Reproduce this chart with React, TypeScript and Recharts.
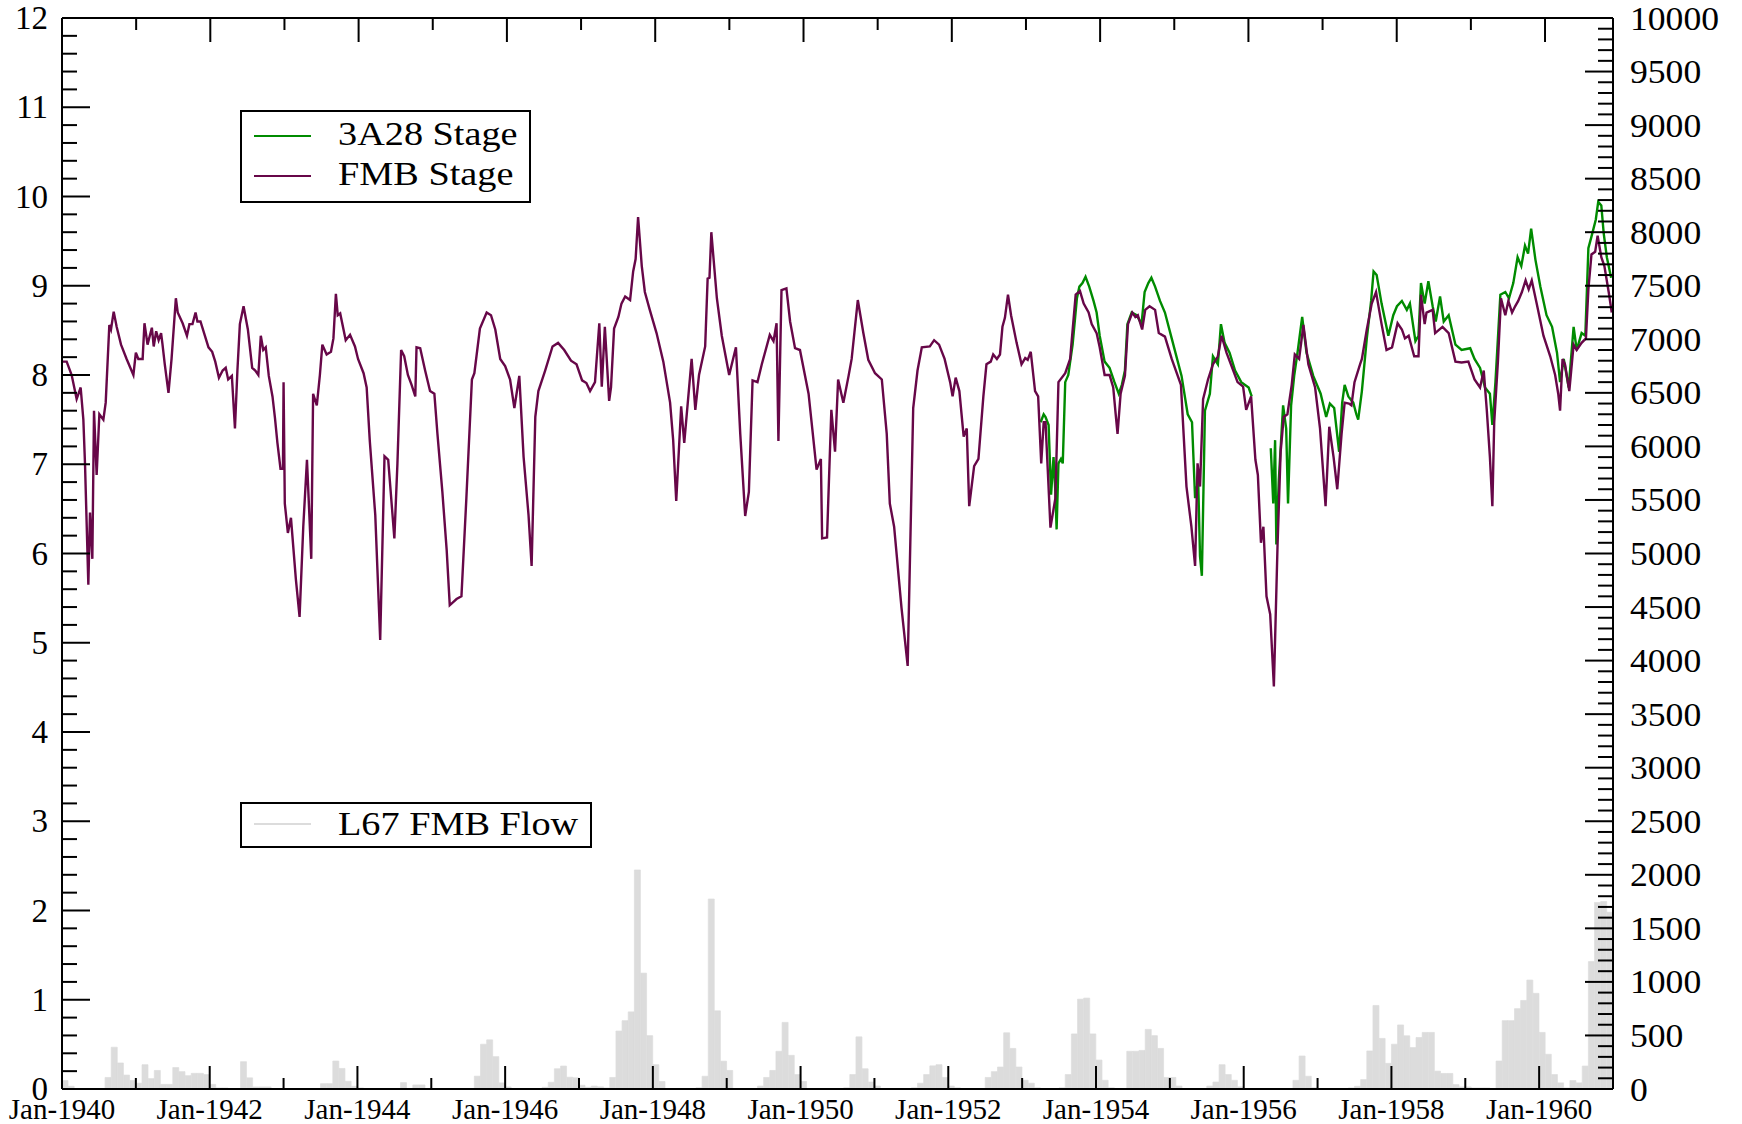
import { Bar, ComposedChart, Legend, Line, XAxis, YAxis } from 'recharts';

const FONT = '"Liberation Serif", "Times New Roman", Times, serif';
const GREEN = '#008b00';
const MAROON = '#670748';
const GREY = '#dcdcdc';

// x positions are months counted from Jan-1940
const X_LABELS = ['Jan-1940', 'Jan-1942', 'Jan-1944', 'Jan-1946', 'Jan-1948', 'Jan-1950', 'Jan-1952', 'Jan-1954', 'Jan-1956', 'Jan-1958', 'Jan-1960'];
const LEFT_LABELS = [0, 1, 2, 3, 4, 5, 6, 7, 8, 9, 10, 11, 12];
const RIGHT_LABELS = [0, 500, 1000, 1500, 2000, 2500, 3000, 3500, 4000, 4500, 5000, 5500, 6000, 6500, 7000, 7500, 8000, 8500, 9000, 9500, 10000];

// L67 FMB Flow, monthly from Jan-1940 (right axis)
const FLOW = [
  79, 25, 0, 0, 0, 0, 0, 108, 390, 243, 130, 80,
  54, 227, 97, 173, 43, 43, 200, 162, 124, 146, 146, 135,
  43, 10, 10, 0, 0, 255, 104, 19, 19, 19, 0, 0,
  0, 0, 0, 0, 0, 0, 50, 50, 261, 192, 72, 25,
  10, 0, 0, 0, 0, 0, 0, 60, 0, 38, 38, 0,
  0, 0, 0, 0, 0, 0, 0, 120, 418, 459, 302, 57,
  19, 0, 0, 0, 0, 0, 16, 63, 189, 214, 110, 104,
  35, 16, 27, 20, 10, 108, 541, 638, 720, 2045, 1082, 498,
  227, 70, 0, 0, 0, 0, 0, 11, 119, 1774, 730, 260,
  173, 0, 0, 0, 0, 27, 108, 173, 352, 622, 314, 135,
  70, 0, 0, 0, 0, 0, 0, 11, 135, 487, 189, 65,
  27, 0, 0, 0, 0, 0, 11, 54, 135, 216, 227, 108,
  27, 11, 0, 0, 0, 0, 108, 162, 205, 525, 379, 205,
  81, 54, 11, 0, 0, 0, 11, 135, 514, 839, 849, 514,
  270, 81, 11, 0, 0, 352, 352, 360, 557, 498, 379, 108,
  108, 27, 0, 0, 0, 0, 27, 65, 227, 135, 81, 20,
  0, 0, 0, 0, 0, 0, 0, 0, 81, 308, 119, 11,
  0, 0, 0, 0, 0, 10, 25, 88, 355, 780, 472, 239,
  418, 598, 497, 387, 481, 528, 528, 167, 145, 145, 41, 19,
  19, 10, 10, 10, 0, 261, 638, 638, 750, 827, 1017, 893,
  528, 324, 135, 57, 10, 79, 57, 214, 1190, 1742, 1750, 1650,
];

// FMB Stage [month, stage]
const FMB_STAGE: [number, number][] = [
  [0, 8.15], [0.76, 8.15], [1.57, 8.0], [2.38, 7.73], [3.03, 7.86], [3.47, 7.5], [3.74, 7.0], [4.28, 5.65], [4.55, 6.46], [4.93, 5.94],
  [5.2, 7.6], [5.63, 6.88], [6.07, 7.56], [6.72, 7.5], [7.1, 7.69], [7.69, 8.56], [7.96, 8.51], [8.4, 8.71], [8.88, 8.54], [9.59, 8.34],
  [10.5, 8.18], [11.6, 8.0], [12.0, 8.25], [12.4, 8.18], [13.1, 8.18], [13.4, 8.58], [13.9, 8.34], [14.6, 8.53], [14.9, 8.32], [15.3, 8.49],
  [15.7, 8.39], [16.1, 8.47], [16.3, 8.36], [16.7, 8.12], [17.3, 7.8], [17.8, 8.18], [18.5, 8.86], [18.8, 8.7], [19.6, 8.58], [20.3, 8.44],
  [20.7, 8.57], [21.2, 8.57], [21.7, 8.7], [22.0, 8.6], [22.5, 8.6], [23.8, 8.31], [24.4, 8.26], [24.9, 8.15], [25.5, 7.97], [26.1, 8.05],
  [26.6, 8.08], [27.0, 7.95], [27.6, 7.99], [28.1, 7.4], [28.5, 8.05], [28.9, 8.57], [29.5, 8.77], [30.2, 8.51], [30.9, 8.08], [31.4, 8.05],
  [31.9, 8.0], [32.3, 8.44], [32.7, 8.28], [33.1, 8.31], [33.6, 7.99], [34.2, 7.76], [34.6, 7.52], [35.0, 7.24], [35.5, 6.95], [35.9, 6.95],
  [36.0, 7.92], [36.2, 6.56], [36.7, 6.23], [37.2, 6.4], [38.0, 5.71], [38.6, 5.29], [39.2, 6.3], [39.8, 7.05], [40.5, 5.94], [40.8, 7.79],
  [41.4, 7.66], [41.9, 8.0], [42.3, 8.34], [43.0, 8.23], [43.7, 8.26], [44.1, 8.41], [44.5, 8.91], [44.8, 8.67], [45.2, 8.69], [46.1, 8.39],
  [46.8, 8.45], [47.6, 8.32], [48.1, 8.18], [49.0, 8.02], [49.5, 7.86], [50.0, 7.27], [50.9, 6.43], [51.7, 5.03], [52.4, 7.09], [53.0, 7.05],
  [54.0, 6.17], [54.5, 7.01], [55.1, 8.28], [55.6, 8.21], [56.2, 8.0], [56.8, 7.89], [57.4, 7.76], [57.6, 8.31], [58.2, 8.3], [59.0, 8.05],
  [59.8, 7.82], [60.5, 7.79], [61.0, 7.34], [61.8, 6.69], [62.5, 6.04], [63.0, 5.42], [64.1, 5.49], [64.9, 5.52], [65.7, 6.62], [66.6, 7.95],
  [67.0, 8.02], [67.9, 8.52], [69.0, 8.7], [69.7, 8.67], [70.4, 8.51], [71.2, 8.18], [72.0, 8.1], [72.8, 7.95], [73.5, 7.63], [74.3, 7.99],
  [75.0, 7.08], [75.8, 6.43], [76.3, 5.86], [76.9, 7.53], [77.4, 7.82], [78.5, 8.05], [79.7, 8.32], [80.6, 8.36], [81.6, 8.28], [82.7, 8.16],
  [83.6, 8.12], [84.5, 7.94], [85.2, 7.91], [85.8, 7.82], [86.6, 7.92], [87.3, 8.58], [87.7, 7.87], [88.2, 8.54], [88.9, 7.71], [89.2, 7.86],
  [89.7, 8.52], [90.4, 8.65], [90.9, 8.8], [91.5, 8.88], [92.3, 8.84], [92.8, 9.16], [93.2, 9.3], [93.6, 9.77], [94.2, 9.22], [94.7, 8.93],
  [95.5, 8.73], [96.6, 8.47], [97.7, 8.15], [98.8, 7.69], [99.3, 7.27], [99.8, 6.59], [100.6, 7.65], [101.1, 7.24], [102.3, 8.18], [102.9, 7.61],
  [103.5, 8.0], [104.5, 8.32], [104.9, 9.08], [105.2, 9.09], [105.5, 9.6], [106.4, 8.86], [107.2, 8.44], [108.4, 8.0], [109.5, 8.31], [110.2, 7.34],
  [111.0, 6.42], [111.6, 6.69], [112.2, 7.94], [113.0, 7.92], [113.7, 8.12], [115.0, 8.45], [115.6, 8.38], [116.1, 8.58], [116.4, 7.26], [116.9, 8.95],
  [117.7, 8.97], [118.3, 8.6], [119.1, 8.3], [119.9, 8.28], [121.3, 7.79], [121.9, 7.4], [122.6, 6.94], [123.3, 7.06], [123.5, 6.17], [124.3, 6.18],
  [125.0, 7.61], [125.6, 7.14], [126.1, 7.95], [126.95, 7.69], [127.8, 7.99], [128.3, 8.18], [129.3, 8.84], [130.2, 8.47], [131.0, 8.17], [132.1, 8.02],
  [133.2, 7.95], [134.0, 7.34], [134.5, 6.56], [135.2, 6.3], [136.4, 5.39], [137.4, 4.74], [138.3, 7.63], [139.0, 8.05], [139.7, 8.31], [141.0, 8.32],
  [141.7, 8.39], [142.5, 8.34], [143.4, 8.18], [144.3, 7.92], [144.7, 7.76], [145.2, 7.97], [145.8, 7.82], [146.5, 7.31], [147.0, 7.4], [147.4, 6.53],
  [148.2, 6.98], [148.9, 7.06], [149.7, 7.76], [150.2, 8.12], [150.9, 8.15], [151.3, 8.23], [151.9, 8.18], [152.4, 8.23], [152.8, 8.54], [153.2, 8.64],
  [153.7, 8.9], [154.2, 8.67], [155.1, 8.36], [155.9, 8.12], [156.5, 8.19], [156.9, 8.17], [157.4, 8.26], [158.1, 7.82], [158.6, 7.76], [159.1, 7.01],
  [159.5, 7.47], [159.8, 7.47], [160.6, 6.29], [161.4, 6.62], [161.9, 7.92], [163.0, 8.02], [163.8, 8.18], [164.7, 8.9], [165.4, 8.94], [166.0, 8.8],
  [166.8, 8.7], [167.3, 8.57], [168.1, 8.47], [168.6, 8.31], [169.4, 8.0], [170.2, 8.0], [170.8, 7.86], [171.2, 7.56], [171.5, 7.34], [172.0, 7.79],
  [172.7, 7.99], [173.2, 8.57], [173.9, 8.7], [174.4, 8.65], [174.8, 8.67], [175.5, 8.51], [176.0, 8.73], [176.7, 8.77], [177.6, 8.73], [178.2, 8.47],
  [179.2, 8.43], [180.3, 8.18], [181.8, 7.89], [182.7, 6.75], [183.5, 6.3], [184.1, 5.86], [184.5, 7.01], [184.9, 6.75], [185.4, 7.73], [186.2, 7.95],
  [187.0, 8.12], [187.8, 8.21], [188.4, 8.44], [189.2, 8.25], [190.3, 8.05], [191.0, 7.92], [191.9, 7.87], [192.4, 7.61], [193.2, 7.76], [193.9, 7.05],
  [194.3, 6.88], [194.8, 6.12], [195.2, 6.3], [195.7, 5.52], [196.3, 5.32], [196.9, 4.51], [197.5, 6.1], [198.0, 7.14], [198.5, 7.53], [199.1, 7.56],
  [199.8, 7.89], [200.3, 8.23], [201.0, 8.18], [201.7, 8.56], [202.5, 8.12], [203.6, 7.86], [204.4, 7.4], [205.3, 6.53], [205.9, 7.42], [206.6, 7.08],
  [207.2, 6.72], [207.9, 7.34], [208.4, 7.69], [209.1, 7.68], [209.5, 7.66], [210.0, 7.92], [210.9, 8.12], [211.2, 8.18], [212.0, 8.51], [212.8, 8.8],
  [213.5, 8.93], [214.4, 8.57], [215.2, 8.28], [216.1, 8.31], [217.0, 8.58], [217.7, 8.51], [218.2, 8.41], [218.8, 8.44], [219.7, 8.21], [220.4, 8.21],
  [220.8, 8.9], [221.4, 8.57], [221.7, 8.7], [222.7, 8.73], [223.1, 8.47], [224.3, 8.54], [225.3, 8.47], [226.4, 8.15], [227.4, 8.14], [228.5, 8.15],
  [229.5, 7.95], [230.4, 7.86], [231.0, 8.05], [231.5, 7.6], [232.0, 7.08], [232.4, 6.53], [232.7, 7.47], [233.3, 8.15], [233.8, 8.86], [234.5, 8.67],
  [235.0, 8.83], [235.6, 8.7], [236.1, 8.77], [236.6, 8.83], [237.2, 8.93], [237.8, 9.06], [238.3, 8.96], [238.8, 9.06], [239.6, 8.8], [240.7, 8.44],
  [241.8, 8.21], [242.6, 8.0], [243.1, 7.79], [243.4, 7.6], [243.8, 8.18], [244.2, 8.12], [244.9, 7.82], [245.6, 8.34], [246.1, 8.28], [246.9, 8.36],
  [247.6, 8.41], [248.0, 8.96], [248.5, 9.35], [249.1, 9.38], [249.5, 9.56], [250.1, 9.32], [250.6, 9.22], [251.3, 8.93], [251.8, 8.7],
];

// 3A28 Stage [month, stage], null = gap in record
const STAGE_3A28: [number, number | null][] = [
  [159.0, 7.47], [159.5, 7.56], [159.8, 7.53], [160.3, 7.44], [160.7, 6.66], [161.1, 7.08], [161.4, 6.69], [161.6, 6.27], [161.9, 7.01], [162.3, 7.06],
  [162.6, 7.01], [163.0, 7.92], [163.5, 8.0], [164.2, 8.34], [164.9, 8.86], [165.3, 8.99], [165.8, 9.03], [166.3, 9.1], [166.9, 8.99], [167.6, 8.83],
  [168.1, 8.7], [168.6, 8.44], [169.4, 8.15], [170.2, 8.08], [171.0, 7.92], [171.7, 7.79], [172.2, 7.89], [172.7, 8.05], [173.1, 8.57], [173.8, 8.7],
  [174.6, 8.67], [175.4, 8.57], [175.9, 8.93], [176.5, 9.03], [177.0, 9.09], [177.6, 8.99], [178.4, 8.83], [179.2, 8.7], [180.3, 8.41], [181.9, 7.99],
  [182.9, 7.56], [183.6, 7.47], [184.1, 6.62], [184.6, 6.82], [184.9, 5.97], [185.2, 5.75], [185.7, 7.6], [186.5, 7.79], [187.0, 8.21], [187.8, 8.12],
  [188.3, 8.57], [188.9, 8.36], [189.7, 8.25], [190.6, 8.05], [191.6, 7.92], [192.8, 7.86], [193.3, 7.76], [194.8, null], [196.4, 7.18], [196.8, 6.56],
  [197.1, 7.27], [197.3, 6.1], [197.7, 6.82], [198.4, 7.66], [198.9, 7.4], [199.2, 6.56], [199.7, 7.66], [200.2, 7.99], [200.8, 8.28], [201.5, 8.65],
  [202.2, 8.25], [203.3, 7.99], [204.5, 7.79], [205.4, 7.53], [206.0, 7.68], [206.7, 7.63], [207.5, 7.14], [208.0, 7.69], [208.4, 7.89], [209.0, 7.76],
  [209.8, 7.69], [210.3, 7.56], [210.6, 7.5], [211.2, 7.82], [212.0, 8.41], [212.7, 8.83], [213.1, 9.16], [213.6, 9.12], [214.4, 8.8], [215.5, 8.44],
  [216.3, 8.67], [216.9, 8.77], [217.7, 8.83], [218.5, 8.73], [219.0, 8.8], [219.9, 8.38], [220.4, 8.44], [220.8, 9.03], [221.4, 8.8], [222.0, 9.05],
  [222.7, 8.77], [223.2, 8.6], [223.9, 8.88], [224.5, 8.6], [225.3, 8.67], [226.4, 8.34], [227.4, 8.28], [228.8, 8.3], [229.5, 8.18], [230.4, 8.08],
  [231.2, 7.86], [232.0, 7.79], [232.4, 7.44], [232.9, 7.92], [233.7, 8.9], [234.5, 8.93], [235.1, 8.86], [235.8, 9.03], [236.5, 9.32], [237.1, 9.22],
  [237.7, 9.45], [238.2, 9.36], [238.7, 9.64], [239.4, 9.29], [240.2, 8.99], [241.2, 8.67], [242.1, 8.54], [242.9, 8.25], [243.4, 7.92], [244.0, 8.18],
  [244.8, 7.86], [245.6, 8.54], [246.1, 8.28], [246.9, 8.47], [247.5, 8.44], [248.0, 9.42], [248.5, 9.55], [249.2, 9.74], [249.6, 9.94], [250.1, 9.9],
  [250.5, 9.58], [251.0, 9.32], [251.7, 9.09],
];

const MONTHS = FLOW.map((_, i) => `${1940 + Math.floor(i / 12)}-${String((i % 12) + 1).padStart(2, '0')}`);
const flowRows = MONTHS.map((month, i) => ({ month, flow: FLOW[i] }));
const fmbRows = FMB_STAGE.map(([t, v]) => ({ t, v }));
const a28Rows = STAGE_3A28.map(([t, v]) => ({ t, v }));

// tick positions (minor + major)
const X_TICKS = Array.from({ length: 21 }, (_, i) => i * 12);
const LEFT_TICKS = Array.from({ length: 61 }, (_, i) => Math.round(i * 2) / 10);
const RIGHT_TICKS = Array.from({ length: 101 }, (_, i) => i * 100);

const tickStroke = { stroke: '#000', strokeWidth: 2 };

const LeftTick = ({ x, y, payload }: any) => {
  const v = payload.value;
  const major = LEFT_LABELS.includes(v);
  return (
    <g>
      <line x1={x} x2={x + (major ? 28 : 15)} y1={y} y2={y} {...tickStroke} />
      {major && (
        <text x={x - 14} y={y} textAnchor="end" dominantBaseline="central" fontSize={33} fontFamily={FONT} fill="#000">
          {v}
        </text>
      )}
    </g>
  );
};

const RightTick = ({ x, y, payload }: any) => {
  const v = payload.value;
  const major = RIGHT_LABELS.includes(v);
  return (
    <g>
      <line x1={x} x2={x - (major ? 28 : 15)} y1={y} y2={y} {...tickStroke} />
      {major && (
        <text
          transform={`translate(${x + 17},${y}) scale(1.08,1)`}
          textAnchor="start"
          dominantBaseline="central"
          fontSize={33}
          fontFamily={FONT}
          fill="#000"
        >
          {v}
        </text>
      )}
    </g>
  );
};

const BottomTick = ({ x, y, payload }: any) => {
  const v = payload.value;
  const major = v % 24 === 0;
  return (
    <g>
      <line x1={x} x2={x} y1={y} y2={y - (major ? 23 : 11)} {...tickStroke} />
      {major && (
        <text x={x} y={y + 30} textAnchor="middle" fontSize={29} fontFamily={FONT} fill="#000">
          {X_LABELS[v / 24]}
        </text>
      )}
    </g>
  );
};

const TopTick = ({ x, y, payload }: any) => {
  const major = payload.value % 24 === 0;
  return <line x1={x} x2={x} y1={y} y2={y + (major ? 24 : 12)} {...tickStroke} />;
};

const LegendBoxes = (props: any) => {
  const payload = props.payload || [];
  const colorOf = (name: string, fallback: string) => payload.find((p: any) => p.value === name)?.color ?? fallback;
  const label = (x: number, y: number, text: string) => (
    <text transform={`translate(${x},${y}) scale(1.16,1)`} fontSize={33} fontFamily={FONT} fill="#000">
      {text}
    </text>
  );
  return (
    <svg width={1742} height={1124} style={{ position: 'absolute', left: 0, top: 0, overflow: 'visible', pointerEvents: 'none' }}>
      <rect x={241} y={111} width={289} height={91} fill="#fff" stroke="#000" strokeWidth={2} />
      <line x1={254} x2={311} y1={136} y2={136} stroke={colorOf('3A28 Stage', GREEN)} strokeWidth={2} />
      {label(338, 145, '3A28 Stage')}
      <line x1={254} x2={311} y1={176} y2={176} stroke={colorOf('FMB Stage', MAROON)} strokeWidth={2} />
      {label(338, 185, 'FMB Stage')}
      <rect x={241} y={803} width={350} height={44} fill="#fff" stroke="#000" strokeWidth={2} />
      <line x1={254} x2={311} y1={824} y2={824} stroke={GREY} strokeWidth={2} />
      {label(338, 835, 'L67 FMB Flow')}
    </svg>
  );
};

const App = () => {
  return (
    <div style={{ position: 'absolute', left: 0, top: 0, background: '#fff' }}>
      <ComposedChart
        width={1742}
        height={1124}
        data={flowRows}
        margin={{ top: 0, right: 0, bottom: 0, left: 0 }}
        barCategoryGap={0}
        barGap={0}
      >
        <XAxis
          xAxisId="time"
          dataKey="t"
          type="number"
          domain={[0, 252]}
          allowDataOverflow
          ticks={X_TICKS}
          interval={0}
          height={35}
          tickSize={0}
          tickMargin={0}
          tickLine={false}
          axisLine={tickStroke}
          tick={(p: any) => <BottomTick {...p} />}
        />
        <XAxis
          xAxisId="top"
          orientation="top"
          type="number"
          domain={[0, 252]}
          allowDataOverflow
          ticks={X_TICKS}
          interval={0}
          height={18}
          tickSize={0}
          tickMargin={0}
          tickLine={false}
          axisLine={tickStroke}
          tick={(p: any) => <TopTick {...p} />}
        />
        <XAxis xAxisId="bars" dataKey="month" type="category" height={0} hide />
        <YAxis
          yAxisId="left"
          type="number"
          domain={[0, 12]}
          allowDataOverflow
          ticks={LEFT_TICKS}
          interval={0}
          width={62}
          tickSize={0}
          tickMargin={0}
          tickLine={false}
          axisLine={tickStroke}
          tick={(p: any) => <LeftTick {...p} />}
        />
        <YAxis
          yAxisId="right"
          orientation="right"
          type="number"
          domain={[0, 10000]}
          allowDataOverflow
          ticks={RIGHT_TICKS}
          interval={0}
          width={129}
          tickSize={0}
          tickMargin={0}
          tickLine={false}
          axisLine={tickStroke}
          tick={(p: any) => <RightTick {...p} />}
        />
        <Bar
          xAxisId="bars"
          yAxisId="right"
          dataKey="flow"
          name="L67 FMB Flow"
          fill={GREY}
          stroke={GREY}
          strokeWidth={0.7}
          isAnimationActive={false}
        />
        <Line
          xAxisId="time"
          yAxisId="left"
          data={a28Rows}
          dataKey="v"
          name="3A28 Stage"
          stroke={GREEN}
          strokeWidth={2.4}
          dot={false}
          isAnimationActive={false}
        />
        <Line
          xAxisId="time"
          yAxisId="left"
          data={fmbRows}
          dataKey="v"
          name="FMB Stage"
          stroke={MAROON}
          strokeWidth={2.4}
          dot={false}
          isAnimationActive={false}
        />
        <Legend
          layout="horizontal"
          verticalAlign="middle"
          align="center"
          wrapperStyle={{ left: 0, top: 0, width: 0, height: 0 }}
          content={(p: any) => <LegendBoxes {...p} />}
        />
      </ComposedChart>
    </div>
  );
};

export default App;
